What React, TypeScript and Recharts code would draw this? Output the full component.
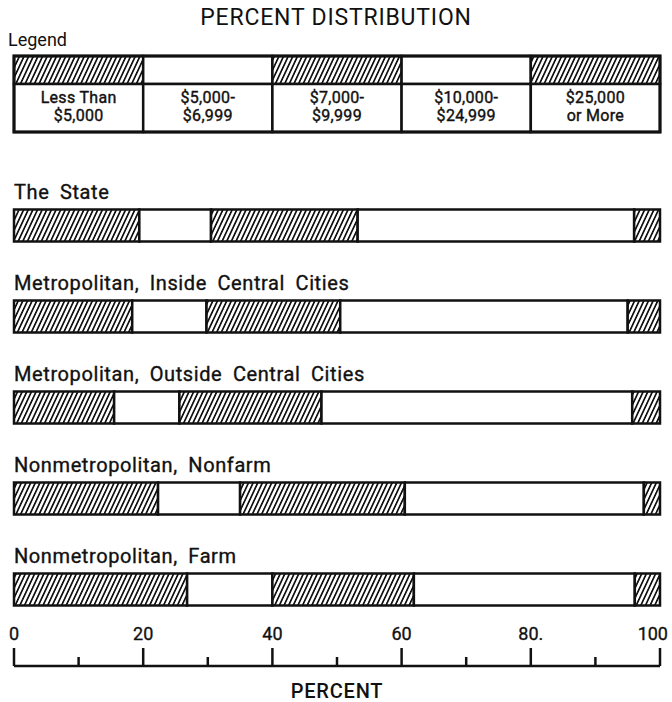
import React from 'react'
import { Bar, BarChart, Label, LabelList, Legend, XAxis, YAxis } from 'recharts'

const FONT = 'Roboto, "Liberation Sans", sans-serif'
const INK = '#111'

// areas, top to bottom
const areas = [
    'The State',
    'Metropolitan, Inside Central Cities',
    'Metropolitan, Outside Central Cities',
    'Nonmetropolitan, Nonfarm',
    'Nonmetropolitan, Farm',
]

// percent of families in each income bracket
const lessThan5000 = [19.4, 18.3, 15.5, 22.3, 26.8]
const from5000to6999 = [11.1, 11.5, 10.1, 12.7, 13.2]
const from7000to9999 = [22.7, 20.7, 22.0, 25.5, 21.9]
const from10000to24999 = [42.8, 44.5, 48.1, 37.0, 34.2]
const over25000 = [4.0, 5.0, 4.3, 2.5, 3.9]

const bracketLabels = [
    ['Less Than', '$5,000'],
    ['$5,000-', '$6,999'],
    ['$7,000-', '$9,999'],
    ['$10,000-', '$24,999'],
    ['$25,000', 'or More'],
]
const bracketNames = bracketLabels.map(l => l.join(' '))

const axisTicks = [0, 10, 20, 30, 40, 50, 60, 70, 80, 90, 100]
const tickLabels: Record<number, string> = { 0: '0', 20: '20', 40: '40', 60: '60', 80: '80.', 100: '100' }

const seriesValues = [lessThan5000, from5000to6999, from7000to9999, from10000to24999, over25000]
const seriesKeys = ['b0', 'b1', 'b2', 'b3', 'b4']
const seriesFills = ['url(#hatch)', '#fff', 'url(#hatch)', '#fff', 'url(#hatch)']

const data = areas.map((name, i) => {
    const row: Record<string, string | number> = { name }
    seriesKeys.forEach((k, s) => { row[k] = seriesValues[s][i] })
    return row
})

const AxisTick = (props: any) => {
    const { x, y, payload } = props
    const v = payload.value as number
    const major = v % 20 === 0
    const last = v === 100
    return (
        <g>
            <line x1={x} x2={x} y1={y} y2={y - (major ? 18 : 9)} stroke={INK} strokeWidth={2.5} />
            {major && (
                <text x={last ? x + 8 : x} y={y - 26} textAnchor={last ? 'end' : 'middle'} fontFamily={FONT} fontSize={18}
                    fill={INK} stroke={INK} strokeWidth={0.35}>
                    {tickLabels[v]}
                </text>
            )}
        </g>
    )
}

const AreaLabel = (props: any) => {
    const { x, y, value } = props
    return (
        <text x={x} y={y - 11} fontFamily={FONT} fontSize={20} fill={INK} stroke={INK} strokeWidth={0.35}
            letterSpacing={0.6} wordSpacing={5}>
            {value}
        </text>
    )
}

const LegendBox = ({ payload }: any) => {
    const items = payload ?? []
    const W = 646
    const colW = W / Math.max(items.length, 1)
    const swatchH = 28
    const H = 76
    return (
        <svg width={W} height={H} style={{ display: 'block', overflow: 'visible' }}>
            <defs>
                <pattern id="hatchLegend" patternUnits="userSpaceOnUse" width={4.2} height={10} patternTransform="rotate(25)">
                    <rect width={4.2} height={10} fill="#fff" />
                    <rect width={1.7} height={10} fill={INK} />
                </pattern>
            </defs>
            {items.map((entry: any, i: number) => {
                const fill = String(entry.color).startsWith('url') ? 'url(#hatchLegend)' : entry.color
                const idx = bracketNames.indexOf(entry.value)
                const lines = idx >= 0 ? bracketLabels[idx] : [entry.value]
                return (
                    <g key={i}>
                        <rect x={i * colW} y={0} width={colW} height={swatchH} fill={fill} stroke={INK} strokeWidth={2.5} />
                        <rect x={i * colW} y={swatchH} width={colW} height={H - swatchH} fill="#fff" stroke={INK} strokeWidth={2.5} />
                        {lines.map((t: string, j: number) => (
                            <text key={j} x={i * colW + colW / 2} y={swatchH + 19 + j * 18} textAnchor="middle"
                                fontFamily={FONT} fontSize={16} fill={INK} stroke={INK} strokeWidth={0.4} letterSpacing={0.3}>
                                {t}
                            </text>
                        ))}
                    </g>
                )
            })}
            <rect x={0} y={0} width={W} height={H} fill="none" stroke={INK} strokeWidth={3} />
        </svg>
    )
}

export default function App() {
    return (
        <div style={{ position: 'absolute', left: 0, top: 0, width: 672, height: 702, background: '#fff' }}>
            <div style={{ position: 'absolute', left: 0, top: 4, width: 672, textAlign: 'center', fontFamily: FONT, fontSize: 23, color: INK, letterSpacing: 0.8 }}>
                PERCENT DISTRIBUTION
            </div>
            <div style={{ position: 'absolute', left: 8, top: 29, fontFamily: FONT, fontSize: 18, color: INK }}>
                Legend
            </div>
            <BarChart
                width={672}
                height={702}
                data={data}
                layout="vertical"
                margin={{ top: 179.5, right: 12, left: 14, bottom: 0 }}
                barSize={32}
            >
                <defs>
                    <pattern id="hatch" patternUnits="userSpaceOnUse" width={4.2} height={10} patternTransform="rotate(25)">
                        <rect width={4.2} height={10} fill="#fff" />
                        <rect width={1.7} height={10} fill={INK} />
                    </pattern>
                </defs>
                <XAxis
                    type="number"
                    domain={[0, 100]}
                    ticks={axisTicks}
                    interval={0}
                    height={36}
                    tickSize={0}
                    tickMargin={0}
                    tickLine={false}
                    axisLine={{ stroke: INK, strokeWidth: 2.5 }}
                    tick={<AxisTick />}
                >
                    <Label value="PERCENT" position="insideBottom" offset={4} fill={INK} fontSize={20} fontFamily={FONT} fontWeight={500} letterSpacing={0.8} />
                </XAxis>
                <YAxis type="category" dataKey="name" hide padding={{ top: 0, bottom: 31.5 }} />
                <Legend
                    layout="horizontal"
                    verticalAlign="middle"
                    align="center"
                    itemSorter={null}
                    wrapperStyle={{ top: 56, left: 14, width: 646, height: 76 }}
                    content={LegendBox}
                />
                {seriesKeys.map((k, s) => (
                    <Bar
                        key={k}
                        dataKey={k}
                        name={bracketNames[s]}
                        stackId="total"
                        fill={seriesFills[s]}
                        stroke={INK}
                        strokeWidth={2.5}
                        isAnimationActive={false}
                    >
                        {s === 0 && <LabelList dataKey="name" content={AreaLabel} />}
                    </Bar>
                ))}
            </BarChart>
        </div>
    )
}
